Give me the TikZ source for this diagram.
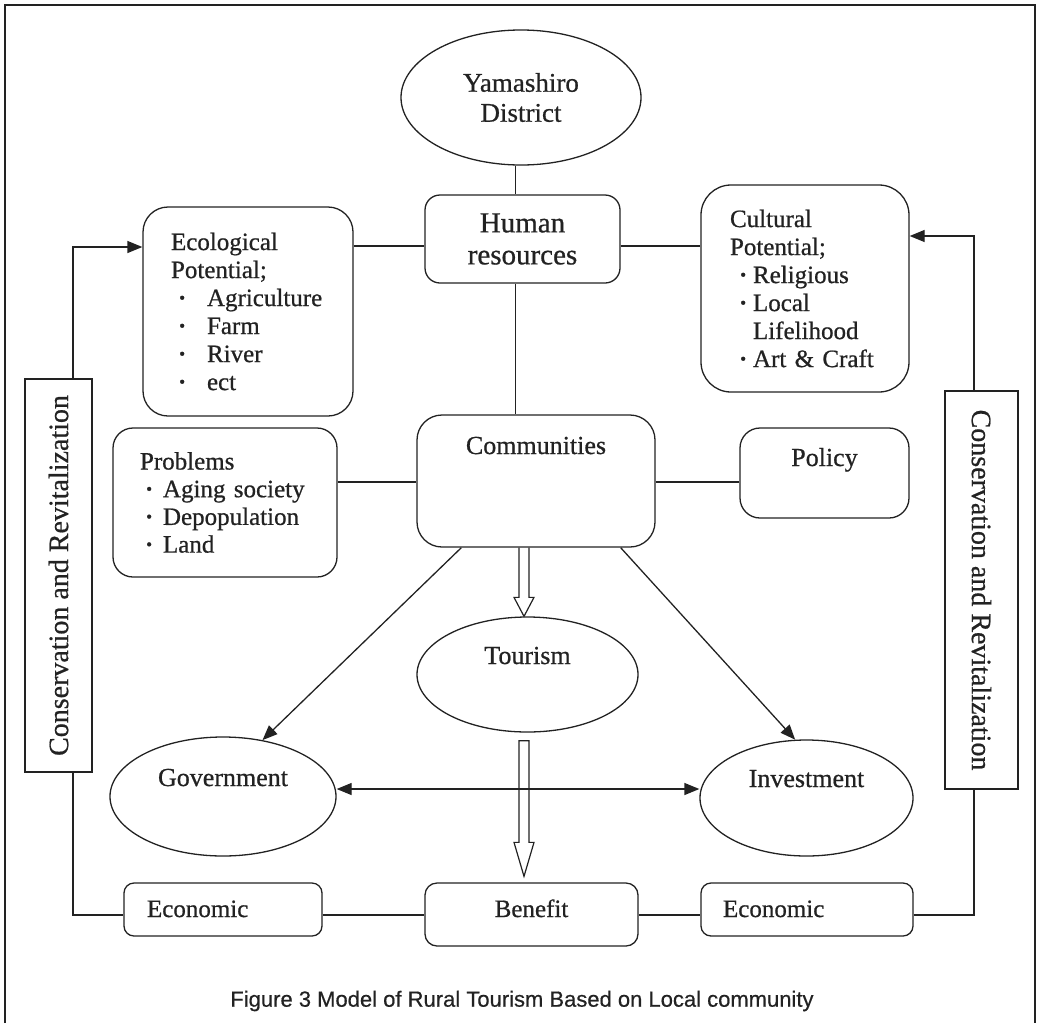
\documentclass[tikz,border=0pt]{standalone}
\usepackage{fontspec}
\setmainfont{Liberation Serif}[FakeBold=0.7]
\newfontfamily\capfont{Liberation Sans}[FakeBold=0.5]
\usepackage{graphicx}
\usetikzlibrary{shapes.geometric,arrows.meta,calc}
\definecolor{ink}{HTML}{222222}
\newcommand\bdot{\textbf{·}}
\newcommand\ecoitem[1]{\makebox[36pt][l]{\hspace{7pt}\bdot}#1}
\newcommand\pitem[1]{\makebox[23pt][l]{\hspace{5pt}\bdot}#1}
\newcommand\citem[1]{\makebox[23pt][l]{\hspace{9pt}\bdot}#1}
\begin{document}
\begin{tikzpicture}[x=1pt,y=-1pt,
  every node/.style={text=ink},
  ln/.style={draw=ink, line width=1.3pt},
  rbox/.style={ln, rectangle, rounded corners=#1, inner sep=0pt},
  oval/.style={ln, ellipse, inner sep=0pt},
  arr/.style={ln, -{Triangle[length=15pt,width=12pt]}},
  darr/.style={ln, {Triangle[length=15pt,width=12pt]}-{Triangle[length=15pt,width=12pt]}},
  hollow/.style={draw=ink, line width=1.2pt, line join=miter},
  big/.style={font=\fontsize{26}{30}\selectfont},
  lst/.style={font=\fontsize{25}{28}\selectfont},
  cons/.style={ln, rectangle, inner sep=0pt, font=\fontsize{28}{32}\selectfont}
]
\useasboundingbox (0,0) rectangle (1038,1023);
% frame
\draw[ln, line width=1.2pt] (5,1023) -- (5,5) -- (1035,5) -- (1035,1023);

% nodes
\node[oval, minimum width=240pt, minimum height=135pt, align=center, font=\fontsize{27}{30}\selectfont] (yam) at (521,97.5) {Yamashiro\\District};
\node[rbox=15pt, minimum width=195pt, minimum height=88pt, align=center, font=\fontsize{29}{32}\selectfont] (hr) at (522.5,239) {Human\\resources};
\node[rbox=25pt, minimum height=209pt, text width=154pt, inner xsep=28pt, align=left, lst] (eco) at (248,311.5)
  {Ecological\\Potential;\\\ecoitem{Agriculture}\\\ecoitem{Farm}\\\ecoitem{River}\\\ecoitem{ect}};
\node[rbox=30pt, minimum height=207pt, text width=150pt, inner xsep=29pt, align=left, lst] (cul) at (805,288.5)
  {Cultural\\Potential;\\\citem{Religious}\\\citem{Local}\\\hspace*{23pt}Lifelihood\\\citem{Art \& Craft}};
\node[rbox=20pt, minimum height=149pt, text width=170pt, inner xsep=27pt, align=left, font=\fontsize{25}{27.7}\selectfont] (prob) at (225,502.5)
  {Problems\\\pitem{Aging society}\\\pitem{Depopulation}\\\pitem{Land}};
\node[rbox=25pt, minimum width=238pt, minimum height=132pt, big, text height=18pt, text depth=72pt] (comm) at (536,481) {Communities};
\node[rbox=20pt, minimum width=169pt, minimum height=90pt, big, text height=18pt, text depth=32pt] (pol) at (824.5,473) {Policy};
\node[oval, minimum width=221pt, minimum height=115pt, big, text height=18pt, text depth=39pt] (tour) at (527.5,674.5) {Tourism};
\node[oval, minimum width=226pt, minimum height=119pt, big, text height=18pt, text depth=39pt] (gov) at (223,796.5) {Government};
\node[oval, minimum width=213pt, minimum height=116pt, big, text height=18pt, text depth=40pt] (inv) at (806.5,798) {Investment};
\node[rbox=10pt, minimum height=53pt, text width=152pt, inner xsep=23pt, align=left, lst, text height=18pt, text depth=3pt] (ecl) at (223,909.5) {Economic};
\node[rbox=10pt, minimum height=53pt, text width=168pt, inner xsep=22pt, align=left, lst, text height=18pt, text depth=3pt] (ecr) at (807,909.5) {Economic};
\node[rbox=12pt, minimum width=213pt, minimum height=63pt, lst, text height=20pt, text depth=15pt] (ben) at (531.5,914.5) {Benefit};
\node[cons, minimum width=67pt, minimum height=393pt] (cl) at (58.5,575.5) {\rotatebox{90}{Conservation and Revitalization}};
\node[cons, minimum width=73pt, minimum height=398pt] (cr) at (981.5,590) {\rotatebox{-90}{Conservation and Revitalization}};
\node[font=\capfont\fontsize{22}{26}\selectfont] (cap) at (522,1001) {Figure 3 Model of Rural Tourism Based on Local community};

% helper coordinates
\coordinate (vx) at (515.5,0);
\coordinate (ax) at (524,0);
\coordinate (hyt) at (0,246);
\coordinate (hyc) at (0,482);
\coordinate (lx) at (73,0);
\coordinate (rx) at (974,0);
\coordinate (by) at (0,915);
\coordinate (ya) at (0,247);
\coordinate (yb) at (0,236);
\coordinate (dy) at (0,789);

% connectors
\draw[ln] (yam.south -| vx) -- (hr.north -| vx);
\draw[ln] (hr.south -| vx) -- (comm.north -| vx);
\draw[ln] (eco.east |- hyt) -- (hr.west |- hyt);
\draw[ln] (hr.east |- hyt) -- (cul.west |- hyt);
\draw[ln] (prob.east |- hyc) -- (comm.west |- hyc);
\draw[ln] (comm.east |- hyc) -- (pol.west |- hyc);
\draw[arr] (cl.north -| lx) -- (lx |- ya) -- (eco.west |- ya);
\draw[ln] (cl.south -| lx) -- (lx |- by) -- (ecl.west |- by);
\draw[ln] (ecl.east |- by) -- (ben.west |- by);
\draw[ln] (ben.east |- by) -- (ecr.west |- by);
\draw[ln] (ecr.east |- by) -- (rx |- by) -- (cr.south -| rx);
\draw[arr] (cr.north -| rx) -- (rx |- yb) -- (cul.east |- yb);
\draw[arr] ($(comm.south west)+(45,0)$) -- (gov.55);
\draw[arr] ($(comm.south east)+(-35,0)$) -- (inv.101);
\draw[darr] (gov.east |- dy) -- (inv.west |- dy);

% hollow arrows
\draw[hollow] ($(comm.south -| ax)+(-5,0)$) -- ($(tour.north -| ax)+(-5,-19)$) -- ($(tour.north -| ax)+(-10,-19)$)
  -- (tour.north -| ax) -- ($(tour.north -| ax)+(10,-19)$) -- ($(tour.north -| ax)+(5,-19)$) -- ($(comm.south -| ax)+(5,0)$);
\draw[hollow] ($(tour.south -| ax)+(-5,8)$) -- ($(ben.north -| ax)+(-5,-40)$) -- ($(ben.north -| ax)+(-10,-40)$)
  -- ($(ben.north -| ax)+(0,-6)$) -- ($(ben.north -| ax)+(10,-40)$) -- ($(ben.north -| ax)+(5,-40)$)
  -- ($(tour.south -| ax)+(5,8)$) -- cycle;
\end{tikzpicture}
\end{document}
